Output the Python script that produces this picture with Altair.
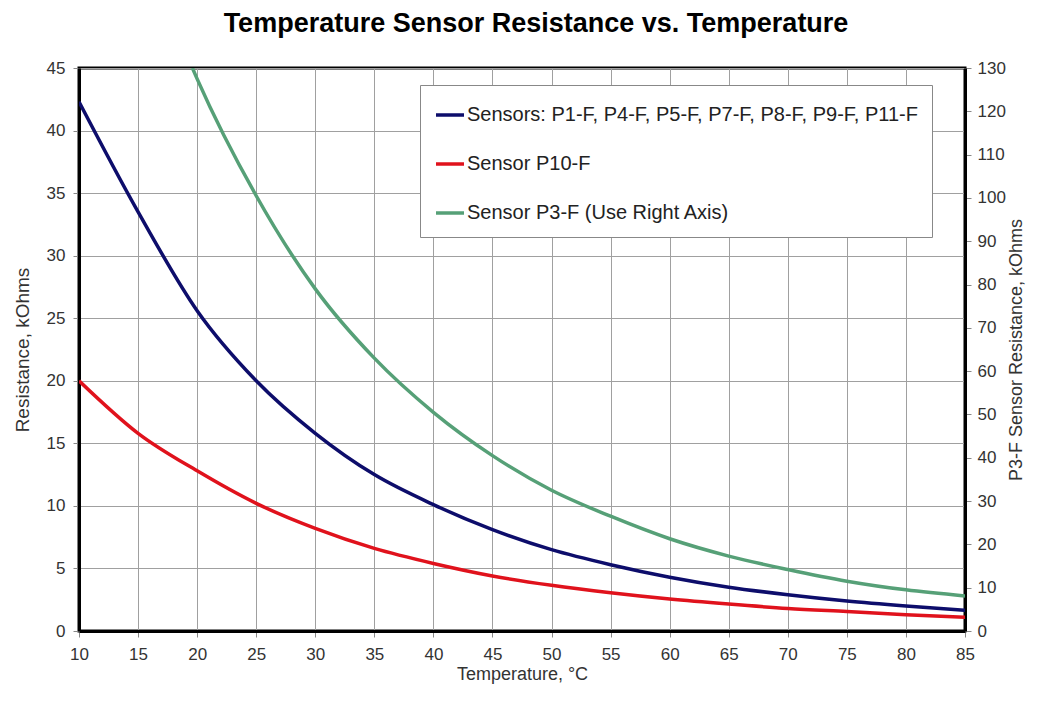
import altair as alt
import pandas as pd

temps = [10, 15, 20, 25, 30, 35, 40, 45, 50, 55, 60, 65, 70, 75, 80, 85]
blue_vals = [42.3, 33.5, 25.6, 20.0, 15.8, 12.5, 10.1, 8.1, 6.5, 5.3, 4.3, 3.5, 2.9, 2.4, 2.0, 1.65]
red_vals = [20.0, 15.8, 12.8, 10.2, 8.2, 6.6, 5.4, 4.4, 3.65, 3.05, 2.55, 2.15, 1.8, 1.55, 1.3, 1.1]
green_temps = [19.6, 20, 25, 30, 35, 40, 45, 50, 55, 60, 65, 70, 75, 80, 85]
green_vals = [130, 127.5, 100.5, 79.0, 63.0, 50.5, 40.5, 32.5, 26.5, 21.3, 17.3, 14.2, 11.5, 9.5, 8.1]

name_blue = "Sensors: P1-F, P4-F, P5-F, P7-F, P8-F, P9-F, P11-F"
name_red = "Sensor P10-F"
name_green = "Sensor P3-F (Use Right Axis)"
series_names = [name_blue, name_red, name_green]
series_colors = ["#0d0d6b", "#e0121c", "#56a077"]

left_df = pd.DataFrame(
    {"temp": temps * 2,
     "value": blue_vals + red_vals,
     "series": [name_blue] * len(temps) + [name_red] * len(temps)}
)
right_df = pd.DataFrame(
    {"temp": green_temps, "value": green_vals, "series": [name_green] * len(green_temps)}
)

FONT = "Liberation Sans"

x_enc = alt.X(
    "temp:Q",
    scale=alt.Scale(domain=[10, 85], nice=False),
    axis=alt.Axis(values=list(range(10, 90, 5)), title="Temperature, °C",
                  labelFlush=False, labelPadding=9, titlePadding=3, titleFontSize=18),
)

color_enc = alt.Color(
    "series:N",
    scale=alt.Scale(domain=series_names, range=series_colors),
    legend=alt.Legend(
        title=None,
        orient="none",
        legendX=341,
        legendY=17,
        direction="vertical",
        symbolType="stroke",
        symbolSize=784,
        symbolStrokeWidth=3.5,
        labelFontSize=20,
        labelFont=FONT,
        labelColor="#222222",
        labelLimit=1000,
        labelOffset=1,
        rowPadding=23,
        padding=14,
        strokeColor="#888888",
        fillColor="white",
    ),
    sort=series_names,
)

left = alt.Chart(left_df).mark_line(strokeWidth=3.5, interpolate="monotone", clip=True).encode(
    x=x_enc,
    y=alt.Y(
        "value:Q",
        scale=alt.Scale(domain=[0, 45], nice=False),
        axis=alt.Axis(values=list(range(0, 50, 5)), title="Resistance, kOhms",
                      titlePadding=14, labelPadding=8),
    ),
    color=color_enc,
    order=alt.Order("temp:Q"),
)

right = alt.Chart(right_df).mark_line(strokeWidth=3.5, interpolate="monotone", clip=True).encode(
    x=x_enc,
    y=alt.Y(
        "value:Q",
        scale=alt.Scale(domain=[0, 130], nice=False),
        axis=alt.Axis(
            values=list(range(0, 140, 10)),
            orient="right",
            grid=False,
            title="P3-F Sensor Resistance, kOhms",
            titleAngle=270,
            titleBaseline="top",
            titleFontSize=18,
            titlePadding=2,
            labelPadding=6,
        ),
    ),
    color=color_enc,
    order=alt.Order("temp:Q"),
)

chart = (
    alt.layer(left, right)
    .resolve_scale(y="independent")
    .properties(
        width=886,
        height=563,
        autosize=alt.AutoSizeParams(type="none"),
        padding={"left": 71, "top": 60, "right": 63, "bottom": 56},
        title=alt.Title(
            "Temperature Sensor Resistance vs. Temperature",
            font=FONT,
            fontSize=27,
            fontWeight="bold",
            color="black",
            offset=21,
            dx=14,
        ),
    )
    .configure(background="white")
    .configure_view(stroke="black", strokeWidth=3)
    .configure_axis(
        labelFont=FONT,
        labelFontSize=17,
        labelColor="#333333",
        titleFont=FONT,
        titleFontSize=19,
        titleFontWeight="normal",
        titleColor="#333333",
        domainColor="black",
        domainWidth=3,
        tickColor="#888888",
        tickSize=6,
        tickWidth=1,
        gridColor="#a0a0a0",
        gridWidth=1,
        gridOpacity=1,
    )
)

chart.save("out.html", embed_options={"renderer": "svg", "actions": False})
